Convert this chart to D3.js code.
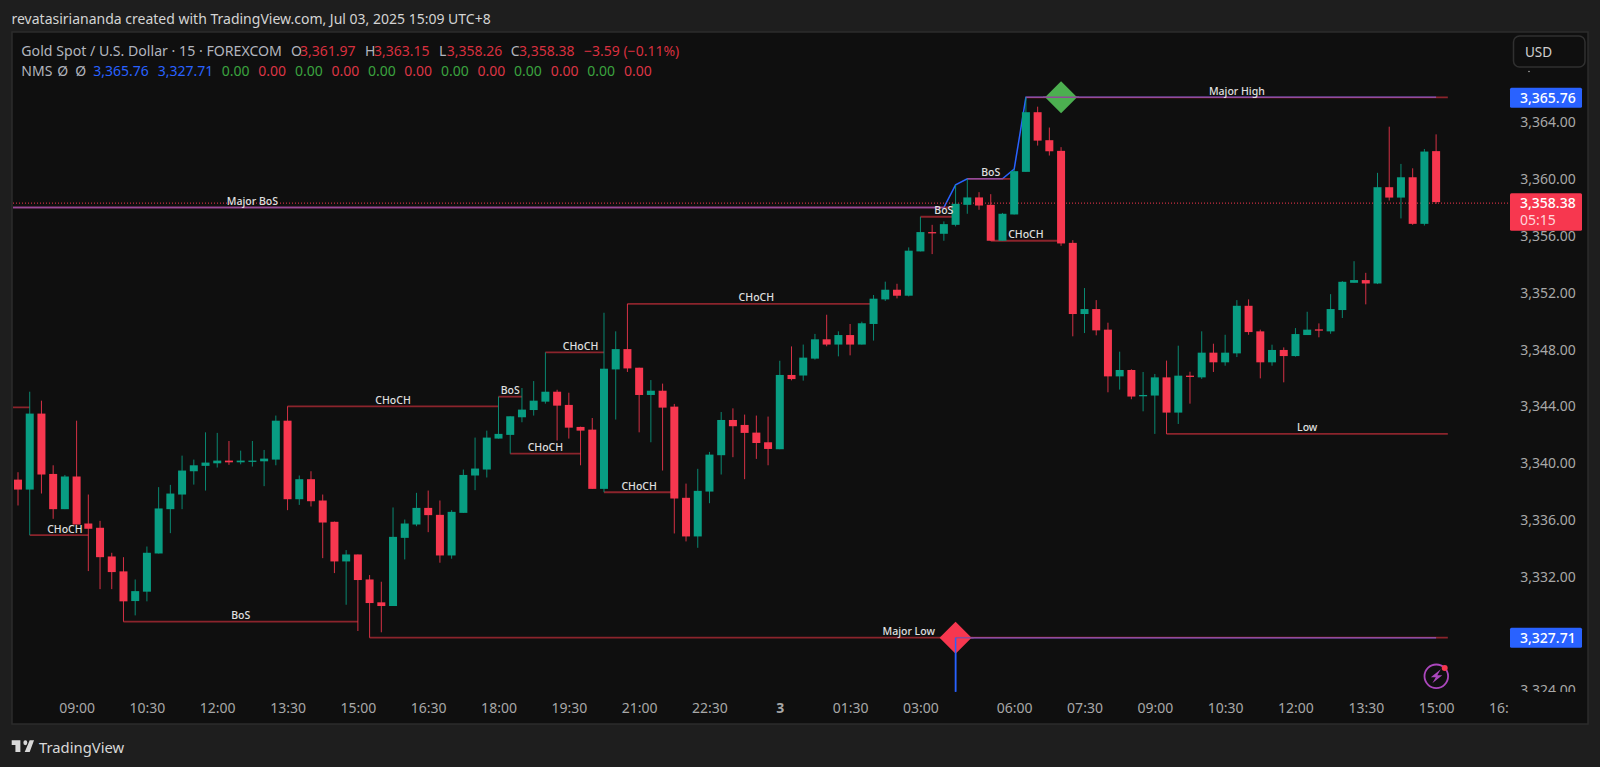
<!DOCTYPE html>
<html><head><meta charset="utf-8">
<script src="https://cdn.jsdelivr.net/npm/d3@7/dist/d3.min.js"></script>
<style>html,body{margin:0;padding:0;background:#1e1e1e;overflow:hidden}svg{display:block}text{font-family:"Noto Sans",sans-serif}</style>
</head><body><svg id="c" width="1600" height="767"></svg>
<script>
const opens=[3338.84,3338.14,3343.49,3339.24,3336.76,3339.06,3335.75,3335.45,3333.43,3332.38,3330.29,3330.95,3333.64,3336.76,3337.79,3339.43,3339.81,3339.99,3340.18,3340.06,3340.13,3340.13,3340.25,3342.99,3337.46,3338.87,3337.37,3335.87,3333.08,3333.57,3331.81,3330.20,3329.94,3334.74,3335.68,3336.85,3336.36,3333.50,3336.50,3339.13,3339.55,3341.73,3341.99,3343.23,3343.74,3344.33,3345.03,3344.10,3342.55,3342.36,3338.19,3346.60,3348.03,3346.72,3344.80,3345.10,3343.98,3337.56,3334.84,3338.00,3340.56,3343.04,3342.69,3342.15,3341.47,3340.98,3346.21,3346.17,3347.36,3348.72,3348.35,3349.02,3348.35,3349.80,3351.53,3352.21,3351.79,3354.91,3356.27,3356.15,3356.78,3358.19,3358.71,3358.19,3355.66,3357.51,3360.51,3364.71,3362.74,3361.99,3355.51,3350.50,3350.85,3349.40,3346.11,3346.56,3344.71,3344.76,3346.04,3343.56,3346.16,3346.04,3347.78,3347.10,3347.73,3351.08,3349.28,3347.10,3347.97,3347.54,3349.02,3349.42,3349.28,3350.78,3352.70,3352.89,3352.65,3359.43,3358.70,3360.13,3356.85,3361.97];
const highs=[3339.36,3345.03,3344.40,3339.85,3339.17,3342.99,3337.79,3335.94,3333.69,3333.38,3331.81,3334.13,3338.31,3338.47,3340.53,3340.25,3342.17,3342.13,3341.56,3340.88,3341.56,3340.93,3343.35,3344.00,3339.13,3339.43,3337.79,3335.89,3333.88,3333.57,3332.12,3331.65,3336.88,3336.03,3337.91,3338.07,3337.37,3336.69,3339.55,3341.80,3342.29,3344.68,3343.30,3345.29,3345.78,3347.80,3345.17,3344.96,3342.57,3343.18,3350.59,3349.28,3351.22,3346.72,3345.85,3345.60,3344.17,3338.56,3339.60,3340.79,3343.60,3343.86,3343.42,3343.35,3343.28,3347.21,3348.22,3348.35,3349.10,3350.45,3349.28,3349.80,3349.96,3351.84,3352.78,3352.63,3355.19,3357.35,3356.78,3357.02,3359.60,3360.02,3359.08,3358.94,3357.62,3360.70,3365.76,3365.10,3363.63,3362.25,3355.70,3352.33,3351.48,3349.89,3347.85,3346.61,3346.42,3346.28,3347.22,3348.27,3346.44,3349.28,3348.41,3349.04,3351.48,3351.53,3349.40,3348.34,3348.15,3349.51,3350.66,3349.84,3351.90,3352.82,3354.22,3353.40,3360.44,3363.69,3361.07,3360.76,3362.12,3363.15];
const lows=[3337.02,3334.93,3337.86,3336.08,3336.76,3335.68,3332.40,3331.13,3331.13,3328.84,3329.28,3330.27,3333.64,3335.07,3336.76,3338.49,3338.07,3339.69,3339.88,3339.92,3339.76,3338.38,3339.85,3336.69,3337.06,3336.95,3333.31,3332.26,3330.03,3328.18,3327.71,3328.09,3329.94,3333.22,3335.56,3335.14,3332.99,3333.27,3336.50,3338.10,3338.99,3341.73,3340.67,3342.88,3343.35,3344.19,3341.59,3341.73,3339.85,3338.19,3337.95,3343.07,3346.42,3342.17,3341.47,3339.48,3335.05,3334.49,3334.04,3337.18,3339.20,3340.42,3338.87,3340.30,3339.85,3340.98,3345.83,3345.81,3347.29,3348.23,3347.52,3347.59,3348.35,3348.63,3351.42,3351.60,3351.74,3354.91,3354.72,3355.66,3356.67,3357.56,3357.84,3355.66,3355.66,3357.51,3360.51,3362.36,3361.66,3355.30,3348.93,3349.16,3349.00,3344.99,3345.18,3344.50,3343.65,3342.06,3342.06,3342.76,3344.19,3345.93,3346.42,3346.86,3347.47,3349.04,3345.97,3346.86,3345.69,3347.50,3349.02,3348.86,3349.11,3350.22,3352.70,3351.18,3352.61,3358.49,3357.23,3356.78,3356.73,3358.26];
const closes=[3338.14,3343.49,3339.20,3336.76,3339.06,3335.68,3335.38,3333.38,3332.33,3330.27,3330.99,3333.69,3336.81,3337.86,3339.48,3339.85,3340.04,3340.18,3340.06,3340.18,3340.18,3340.32,3342.99,3337.46,3338.87,3337.32,3335.82,3333.08,3333.57,3331.77,3330.15,3329.94,3334.81,3335.75,3336.85,3336.34,3333.50,3336.57,3339.17,3339.62,3341.80,3342.06,3343.30,3343.77,3344.40,3345.03,3344.05,3342.50,3342.29,3338.19,3346.65,3348.03,3346.67,3344.80,3345.10,3343.91,3337.51,3334.84,3338.05,3340.60,3343.04,3342.60,3342.13,3341.42,3341.00,3346.21,3345.92,3347.43,3348.72,3348.35,3349.02,3348.35,3349.85,3351.58,3352.21,3351.79,3354.96,3356.27,3356.22,3356.83,3358.26,3358.71,3358.14,3355.66,3357.56,3360.56,3364.71,3362.71,3361.96,3355.47,3350.50,3350.85,3349.35,3346.11,3346.56,3344.69,3344.80,3346.04,3343.56,3346.16,3346.09,3347.78,3347.10,3347.78,3351.08,3349.23,3347.10,3347.97,3347.54,3349.09,3349.40,3349.35,3350.85,3352.77,3352.89,3352.65,3359.43,3358.70,3360.13,3356.85,3361.94,3358.38];

const structLabels=["","CHoCH","BoS","CHoCH","BoS","CHoCH","CHoCH","CHoCH","CHoCH","Major BoS","BoS","BoS","CHoCH","Major High","Major Low","Low"];
const structStart=[-20,1,9,23,41,42,45,50,52,-40,77,81,83,86,30,98];
const structEnd=[1,6,29,41,43,48,50,56,73,80,80,85,89,122,122,122];
const structPrice=[3343.93,3334.93,3328.84,3344.00,3344.68,3340.67,3347.80,3337.95,3351.22,3358.00,3357.35,3360.02,3355.66,3365.76,3327.71,3342.06];
const upperIdx=[-40,79,80,81,84,85,86,121];
const upperVal=[3358.00,3358.00,3359.60,3360.02,3360.02,3360.70,3365.76,3365.76];
const lowerIdx=[80,80,121];
const lowerVal=[3323.90,3327.71,3327.71];
const diamondIdx=[89,80];
const diamondVal=[3365.76,3327.71];
const priceTicks=[3364,3360,3356,3352,3348,3344,3340,3336,3332,3324];
const timeIdx=[5,11,17,23,29,35,41,47,53,59,65,71,77,85,91,97,103,109,115,121,127];
const timeLabels=["09:00","10:30","12:00","13:30","15:00","16:30","18:00","19:30","21:00","22:30","3","01:30","03:00","06:00","07:30","09:00","10:30","12:00","13:30","15:00","16:00"];
const legendHead=["Gold Spot / U.S. Dollar · 15 · FOREXCOM","O","3,361.97","H","3,363.15","L","3,358.26","C","3,358.38","−3.59 (−0.11%)"];
const legendHeadKind=[0,0,1,0,1,0,1,0,1,1];
const legendNms=["NMS","Ø","Ø","3,365.76","3,327.71","0.00","0.00","0.00","0.00","0.00","0.00","0.00","0.00","0.00","0.00","0.00","0.00"];
const legendNmsKind=[0,0,0,2,2,3,1,3,1,3,1,3,1,3,1,3,1];

const RED="#f7374f",GREEN="#089d82";
const W=1600,H=767,paneL=13,paneT=33,paneR=1509,paneB=695;
const headX=[21.3,291,300,365,374,439,446.7,510.7,519,584];
const nmsX=[21.3,57.3,75.3,93.3,157.7,221.7,258.3,295,331.5,368,404.3,441,477.5,514,550.7,587.3,624];
const svg=d3.select("#c");
const x=d3.scaleLinear().domain([0,121]).range([18,1436.1]);
const y=d3.scaleLinear().domain([3327.71,3365.76]).range([637.7,97.3]);

svg.append("rect").attr("width",W).attr("height",H).attr("fill","#1e1e1e");
svg.append("rect").attr("x",12).attr("y",32).attr("width",1576).attr("height",692).attr("fill","#0f0f0f").attr("stroke","#2c2c2c").attr("stroke-width",1.5);
const defs=svg.append("defs");
defs.append("clipPath").attr("id","pane").append("rect").attr("x",paneL).attr("y",paneT).attr("width",paneR-paneL).attr("height",paneB-paneT);
defs.append("clipPath").attr("id","yc").append("rect").attr("x",1510).attr("y",70.5).attr("width",76).attr("height",621.5);
defs.append("clipPath").attr("id","xc").append("rect").attr("x",paneL).attr("y",696).attr("width",paneR-paneL).attr("height",26);

const plot=svg.append("g").attr("clip-path","url(#pane)");
const lineGen=d3.line().x(d=>x(d[0])).y(d=>y(d[1]));
const BLUE_W=1.5;
plot.append("path").attr("d",lineGen(upperIdx.map((d,i)=>[d,upperVal[i]]))).attr("fill","none").attr("stroke","#2962ff").attr("stroke-width",BLUE_W);
plot.append("path").attr("d",lineGen(lowerIdx.map((d,i)=>[d,lowerVal[i]]))).attr("fill","none").attr("stroke","#2962ff").attr("stroke-width",BLUE_W);
plot.selectAll("line.st").data(structPrice).join("line").attr("class","st")
 .attr("x1",(d,i)=>x(structStart[i])).attr("x2",(d,i)=>x(structEnd[i])).attr("y1",d=>y(d)).attr("y2",d=>y(d))
 .attr("stroke","#f23645").attr("stroke-opacity",0.55).attr("stroke-width",1.8);
plot.append("line").attr("x1",paneL).attr("x2",paneR).attr("y1",y(closes[121])+1).attr("y2",y(closes[121])+1)
 .attr("stroke","#f7374f").attr("stroke-width",1).attr("stroke-dasharray","1 2");
const idx=d3.range(opens.length);
plot.selectAll("line.w").data(idx).join("line").attr("class","w")
 .attr("x1",i=>x(i)).attr("x2",i=>x(i)).attr("y1",i=>y(highs[i])).attr("y2",i=>y(lows[i]))
 .attr("stroke",i=>closes[i]>=opens[i]?GREEN:RED).attr("stroke-width",1).attr("stroke-opacity",0.85);
plot.selectAll("rect.b").data(idx).join("rect").attr("class","b")
 .attr("x",i=>x(i)-4).attr("width",8)
 .attr("y",i=>y(Math.max(opens[i],closes[i])))
 .attr("height",i=>Math.max(1.3,Math.abs(y(opens[i])-y(closes[i]))))
 .attr("fill",i=>closes[i]>=opens[i]?GREEN:RED);
plot.selectAll("path.dm").data(diamondVal).join("path").attr("class","dm")
 .attr("d",d3.symbol(d3.symbolSquare,512))
 .attr("transform",(d,i)=>`translate(${x(diamondIdx[i])},${y(d)}) rotate(45)`)
 .attr("fill",(d,i)=>i==0?"#4caf50":RED);
const PURPLE="#8f4b98";
plot.append("line").attr("x1",x(lowerIdx[1])).attr("x2",x(lowerIdx[1])+18).attr("y1",y(lowerVal[1])).attr("y2",y(lowerVal[1])).attr("stroke",PURPLE).attr("stroke-width",BLUE_W);
plot.append("line").attr("x1",x(lowerIdx[0])).attr("x2",x(lowerIdx[0])).attr("y1",y(lowerVal[1])).attr("y2",y(lowerVal[0])).attr("stroke","#2962ff").attr("stroke-width",BLUE_W);
plot.append("line").attr("x1",x(diamondIdx[0])-18).attr("x2",x(diamondIdx[0])+18).attr("y1",y(diamondVal[0])).attr("y2",y(diamondVal[0])).attr("stroke",PURPLE).attr("stroke-width",BLUE_W);
plot.selectAll("text.sl").data(structLabels).join("text").attr("class","sl")
 .attr("x",(d,i)=>x(Math.ceil((structStart[i]+structEnd[i])/2))).attr("y",(d,i)=>y(structPrice[i])-6.6)
 .attr("text-anchor","middle").attr("dominant-baseline","central")
 .attr("font-size",10.5).attr("font-weight",500).attr("fill","#e0e0e0").text(d=>d);

// axes
const yAxis=d3.axisRight(y).tickValues(priceTicks).tickSize(0).tickFormat(d3.format(",.2f"));
const gy=svg.append("g").attr("clip-path","url(#yc)").append("g").attr("transform","translate(1575.7,0)").call(yAxis);
gy.select(".domain").remove();
gy.selectAll("text").attr("x",0).attr("text-anchor","end").attr("fill","#a8a8a8").attr("font-size",14);
svg.append("circle").attr("cx",1529).attr("cy",71.5).attr("r",0.8).attr("fill","#a8a8a8");
const xAxis=d3.axisBottom(x).tickValues(timeIdx).tickSize(0).tickFormat((d,i)=>timeLabels[i]);
const gx=svg.append("g").attr("clip-path","url(#xc)").append("g").attr("transform","translate(0,703)").call(xAxis);
gx.select(".domain").remove();
gx.selectAll("text").attr("y",0).attr("dy","0.71em").attr("fill","#a8a8a8").attr("font-size",14)
 .attr("font-weight",d=>d===65?700:400);

// price tags
function tag(val,h,fill,top){
 const g=svg.append("g");
 g.append("rect").attr("x",1510).attr("y",top).attr("width",72).attr("height",h).attr("rx",1.5).attr("fill",fill);
 g.append("text").attr("x",1575.7).attr("y",top+9.5).attr("text-anchor","end").attr("dominant-baseline","central").attr("fill","#fff").attr("font-size",14).attr("font-weight",500).text(d3.format(",.2f")(val));
 return g;
}
tag(upperVal[7],20,"#2962ff",y(upperVal[7])-9.6);
tag(lowerVal[2],20,"#2962ff",y(lowerVal[2])-10);
const rt=tag(closes[121],37.5,"#f7374f",193.2);
rt.append("text").attr("x",1520).attr("y",219).attr("dominant-baseline","central").attr("fill","#ffd5da").attr("font-size",14).text("05:15");

// USD button
svg.append("rect").attr("x",1513.5).attr("y",36).attr("width",71.5).attr("height",31).attr("rx",6).attr("fill","#0f0f0f").attr("stroke","#303030").attr("stroke-width",1.5);
svg.append("text").attr("x",1525).attr("y",52).attr("dominant-baseline","central").attr("fill","#d0d0d0").attr("font-size",13.5).text("USD");

// title
svg.append("text").attr("x",11.5).attr("y",18.3).attr("dominant-baseline","central").attr("fill","#d4d4d4").attr("font-size",14).text("revatasiriananda created with TradingView.com, Jul 03, 2025 15:09 UTC+8");

// legend
svg.selectAll("text.lg1").data(legendHead).join("text").attr("class","lg1")
 .attr("x",(d,i)=>headX[i]).attr("y",50).attr("dominant-baseline","central").attr("font-size",(d,i)=>i==0?14.15:14)
 .attr("fill",(d,i)=>legendHeadKind[i]?"#d8303f":"#b2b5be").text(d=>d);
const nmsColors=["#b2b5be","#dc3545","#2962ff","#3ba33f"];
svg.selectAll("text.lg2").data(legendNms).join("text").attr("class","lg2")
 .attr("x",(d,i)=>nmsX[i]).attr("y",70.7).attr("dominant-baseline","central").attr("font-size",14)
 .attr("fill",(d,i)=>nmsColors[legendNmsKind[i]]).text(d=>d);

// alert icon
const ic=svg.append("g").attr("transform","translate(1436.3,676.3)");
ic.append("circle").attr("r",11.8).attr("fill","none").attr("stroke","#ab47bc").attr("stroke-width",1.8);
ic.append("path").attr("d","M4.5,-7 L-5.5,1 L-0.5,1 L-4,7 L6,-1 L1,-1 Z").attr("fill","#ab47bc");
ic.append("circle").attr("cx",8.4).attr("cy",-8.3).attr("r",3).attr("fill",RED);

// footer
svg.append("path").attr("transform","translate(11.7,740.3) scale(0.62,0.78)").attr("fill","#d8d8d8")
 .attr("d","M14 0H0v6h6v9h8V0ZM22 0a3.2 3.2 0 1 1 0 6.4 3.2 3.2 0 0 1 0-6.4ZM29 0h7l-7 15h-8l8-15Z");
svg.append("text").attr("x",39).attr("y",746.5).attr("dominant-baseline","central").attr("fill","#d8d8d8").attr("font-size",14.8).text("TradingView");
</script></body></html>
